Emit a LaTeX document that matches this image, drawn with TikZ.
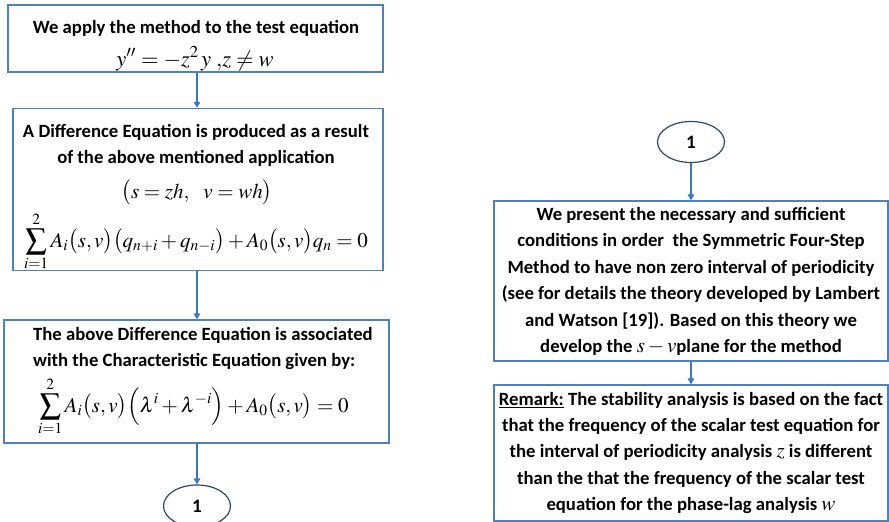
\documentclass[tikz,border=0pt]{standalone}
\usepackage{mathptmx}
\usepackage[no-math]{fontspec}
\setmainfont{Carlito}
\usetikzlibrary{shapes.geometric,arrows.meta}
\definecolor{boxc}{HTML}{4F81BD}
\definecolor{arrc}{HTML}{3B76C2}
\definecolor{ellc}{HTML}{2C4670}
\newcommand{\mth}[1]{{\fontsize{21}{25}\selectfont\mdseries$#1$}}
\begin{document}
\begin{tikzpicture}[x=1pt,y=-1pt,
  box/.style={draw=boxc, line width=1.3pt, rectangle, inner sep=0pt},
  tl/.style={inner sep=0pt, anchor=base, font=\fontsize{18.7}{22}\selectfont\bfseries},
  ml/.style={inner sep=0pt, anchor=base, font=\fontsize{21}{25}\selectfont},
  conn/.style={draw=ellc, line width=1.2pt, ellipse, inner sep=0pt,
    font=\fontsize{19}{22}\selectfont\bfseries},
  arr/.style={draw=arrc, line width=2pt, -{Triangle[length=6pt,width=6.5pt]}}]
\useasboundingbox (0,0) rectangle (889,522);
\fill[white] (0,0) rectangle (889,522);

% boxes
\node[box, minimum width=375pt, minimum height=67pt] (b1) at (195.5,38.5) {};
\node[box, minimum width=370pt, minimum height=162pt] (b2) at (198,189.5) {};
\node[box, minimum width=385pt, minimum height=123pt] (b3) at (196.5,381.5) {};
\node[box, minimum width=394pt, minimum height=160pt] (b4) at (691,281) {};
\node[box, minimum width=394pt, minimum height=136pt] (b5) at (691,453) {};
\node[conn, minimum width=67pt, minimum height=42pt] (eL) at (197,506) {1};
\node[conn, minimum width=67pt, minimum height=41pt] (eR) at (691,142) {1};

% box 1
\node[tl] (t1a) at (196,33) {We apply the method to the test equation};
\node[ml, font=\fontsize{22.5}{26}\selectfont] (t1b) at (195,66) {$y'' = -z^{2}\,y\;{,}z \neq w$};

% box 2
\node[tl] (t2a) at (196,137) {A Difference Equation is produced as a result};
\node[tl] (t2b) at (196,163) {of the above mentioned application};
\node[ml] (t2c) at (197,198) {$\big(s = zh,\;\;\, v = wh\big)$};
\node[ml] (t2d) at (196,247) {$\displaystyle\sum_{i=1}^{2} A_i\big(s,v\big)\big(q_{n+i}+q_{n-i}\big)+A_0\big(s,v\big)q_n=0$};

% box 3
\node[tl, anchor=base west] (t3a) at (33,340) {The above Difference Equation is associated};
\node[tl, anchor=base west] (t3b) at (33,366) {with the Characteristic Equation given by:};
\node[ml, anchor=base west] (t3c) at (38,412) {$\displaystyle\sum_{i=1}^{2} A_i\big(s,v\big)\Big(\lambda^i+\lambda^{-i}\Big)+A_0\big(s,v\big)=0$};

% box 4
\node[tl] (t4a) at (691,220) {We present the necessary and sufficient};
\node[tl] (t4b) at (691,246.5) {conditions in order\ \ the Symmetric Four-Step};
\node[tl] (t4c) at (691,273) {Method to have non zero interval of periodicity};
\node[tl] (t4d) at (691,299.5) {(see for details the theory developed by Lambert};
\node[tl] (t4e) at (691,326) {and Watson [19]). Based on this theory we};
\node[tl] (t4f) at (691,352.5) {develop the \mth{s-v}plane for the method};

% box 5
\node[tl] (t5a) at (691,405) {\underline{Remark:} The stability analysis is based on the fact};
\node[tl] (t5b) at (691,431) {that the frequency of the scalar test equation for};
\node[tl] (t5c) at (691,457.5) {the interval of periodicity analysis \mth{z} is different};
\node[tl] (t5d) at (691,484) {than the that the frequency of the scalar test};
\node[tl] (t5e) at (691,510) {equation for the phase-lag analysis \mth{w}};

% connectors
\draw[arr] (b1.south -| eL) -- (b2.north -| eL);
\draw[arr] (b2.south -| eL) -- (b3.north -| eL);
\draw[arr] (b3.south -| eL) -- (eL.north);
\draw[arr] (eR.south) -- (b4.north -| eR);
\draw[arr] (b4.south -| eR) -- (b5.north -| eR);
\end{tikzpicture}
\end{document}
